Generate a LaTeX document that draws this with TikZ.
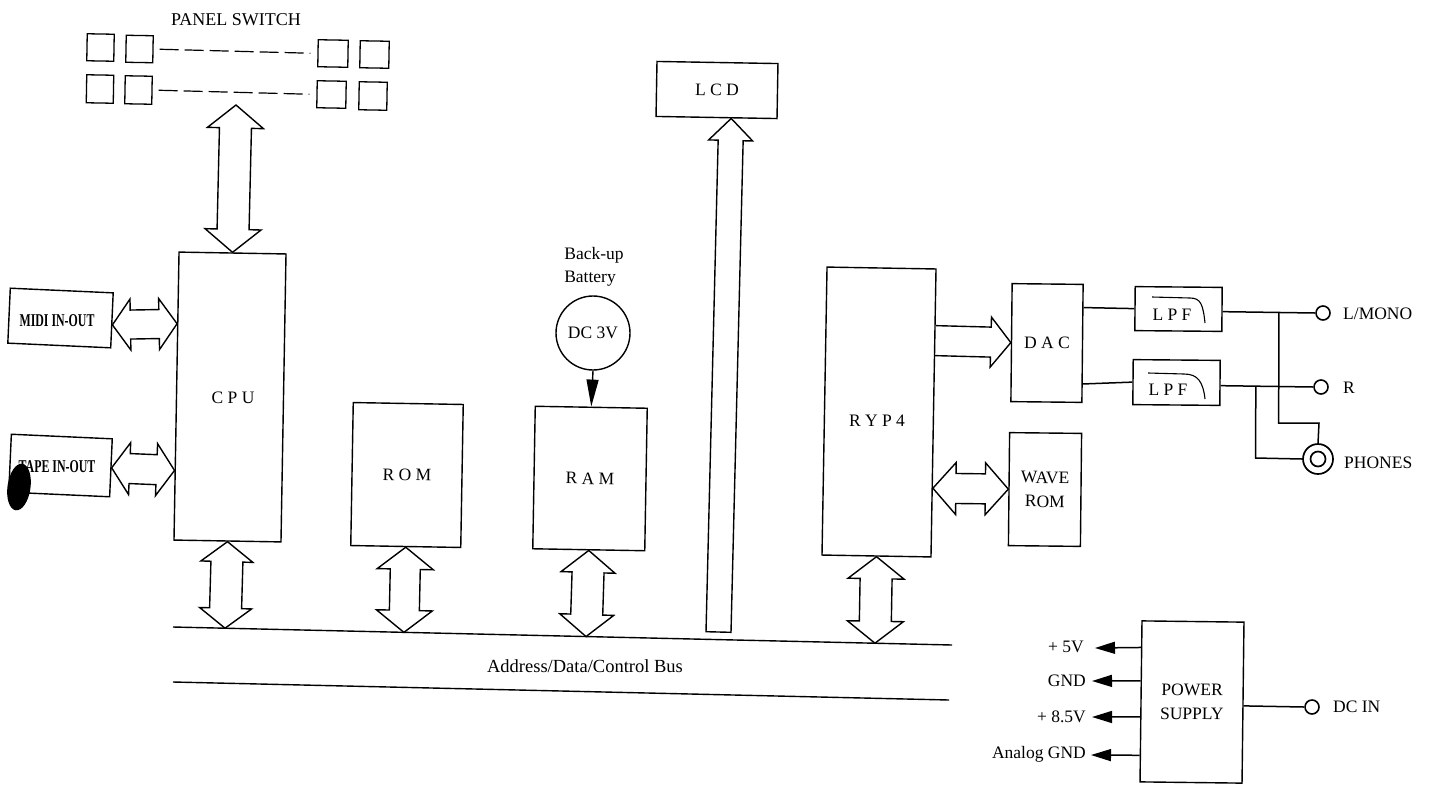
\documentclass[tikz,border=0pt]{standalone}
\usepackage{fontspec}
\usepackage{graphicx}
\setmainfont{Liberation Serif}
\usetikzlibrary{calc,arrows.meta}
\tikzset{
  every node/.style={font=\fontsize{17.5}{20}\selectfont},
  box/.style={draw,line width=1.4pt,inner sep=0pt,align=center},
  swbox/.style={draw,line width=1.3pt,inner sep=0pt,minimum width=27pt,minimum height=27pt,rotate=-1},
  lab/.style={inner sep=0pt,align=center},
  term/.style={draw,circle,line width=1.6pt,inner sep=0pt,minimum size=14pt},
  wire/.style={line width=1.5pt},
  blk/.style={line width=1.4pt,line join=miter,fill=white},
  pwr/.style={line width=1.5pt,-{Triangle[width=12pt,length=20pt]}}
}
% two-headed block arrow between named points: a, b, head half width, shaft half width, head length
\newcommand\dblarrow[5]{%
  \coordinate (p1) at ($(#1)!#5!(#2)$);
  \coordinate (p2) at ($(#2)!#5!(#1)$);
  \draw[blk] (#1) -- ($(p1)!#3!90:(#1)$) -- ($(p1)!#4!90:(#1)$) -- ($(p2)!#4!-90:(#2)$) -- ($(p2)!#3!-90:(#2)$) -- (#2)
    -- ($(p2)!#3!90:(#2)$) -- ($(p2)!#4!90:(#2)$) -- ($(p1)!#4!-90:(#1)$) -- ($(p1)!#3!-90:(#1)$) -- cycle;
}
\begin{document}
\begin{tikzpicture}[x=1pt,y=-1pt]
\useasboundingbox (0,0) rectangle (1431,785);
% panel switches
\node[lab,font=\fontsize{18}{20}\selectfont] (panel) at (236,20) {PANEL SWITCH};
\node[swbox] (s11) at (100.5,47.5) {};
\node[swbox] (s12) at (139.5,49) {};
\node[swbox,minimum width=30pt] (s13) at (333,53.5) {};
\node[swbox,minimum width=29pt] (s14) at (374.5,54.5) {};
\node[swbox,minimum height=28pt] (s21) at (100,89) {};
\node[swbox,minimum height=28pt] (s22) at (138.5,90) {};
\node[swbox,minimum width=29pt] (s23) at (331.5,94.5) {};
\node[swbox,minimum width=28pt,minimum height=28pt] (s24) at (373,96) {};
\draw[line width=1.2pt,dash pattern=on 19pt off 6pt] ($(s12.east)+(6,0)$) -- ($(s13.west)+(-7,0)$);
\draw[line width=1.2pt,dash pattern=on 19pt off 6pt] ($(s22.east)+(6,0)$) -- ($(s23.west)+(-7,0)$);
% main boxes
\node[box,minimum width=107pt,minimum height=288pt,rotate=-1] (cpu) at (230,397) {};
\node[lab] (cputext) at (233,398) {C P U};
\node[box,minimum width=103pt,minimum height=55pt,rotate=-2.6] (midi) at (60.5,318) {};
\node[lab] (miditext) at (57,321) {\scalebox{.66}[1]{\fontsize{18}{20}\selectfont\bfseries MIDI IN-OUT}};
\node[box,minimum width=101pt,minimum height=58pt,rotate=-2.6] (tape) at (60.5,465.5) {};
\fill[black,rotate around={-8:(19,487)}] (19,487) ellipse [x radius=11.5pt,y radius=23.5pt];
\node[lab] (tapetext) at (57,467) {\scalebox{.66}[1]{\fontsize{18}{20}\selectfont\bfseries TAPE IN-OUT}};
\node[box,minimum width=110pt,minimum height=143pt,rotate=-1] (rom) at (407,475) {R O M};
\node[box,minimum width=112pt,minimum height=142.5pt,rotate=-1] (ram) at (590,478.5) {R A M};
\node[box,minimum width=121pt,minimum height=55pt,rotate=-1] (lcd) at (717,90) {L C D};
\node[box,minimum width=109pt,minimum height=288pt,rotate=-1] (ryp) at (879,412) {};
\node[lab] (ryptext) at (877,421) {R Y P 4};
\node[box,minimum width=71pt,minimum height=118pt,rotate=-.6] (dac) at (1047,343) {D A C};
\node[box,minimum width=72pt,minimum height=113pt,rotate=-.6] (wave) at (1045,489.5) {WAVE\\[4pt]ROM};
\node[box,minimum width=87pt,minimum height=44pt,rotate=-.5] (lpfa) at (1178.5,309) {};
\node[lab] (lpfatext) at (1172,315) {L P F};
\node[box,minimum width=87pt,minimum height=45pt,rotate=-.5] (lpfb) at (1176.5,382.5) {};
\node[lab] (lpfbtext) at (1168,390) {L P F};
\draw[line width=1.1pt] (1152,297) -- (1190,298) .. controls (1201,298) and (1203,305) .. (1205,323);
\draw[line width=1.1pt] (1148,373) -- (1184,374) .. controls (1198,374) and (1203,382) .. (1205,399);
\node[box,minimum width=102pt,minimum height=161pt,rotate=-.7] (psu) at (1192,702) {POWER\\[4pt]SUPPLY};
% battery
\node[lab] (backup) at (594,255) {Back-up};
\node[lab] (battery) at (590,279) {Battery};
\node[draw,circle,line width=1.4pt,minimum size=74pt,inner sep=0pt] (batt) at (593,333) {DC 3V};
\draw[line width=1.4pt,-{Triangle[width=12pt,length=27pt]}] (batt.south) -- (ram.north);
% block arrows
\dblarrow{cpu.north}{236,105}{28pt}{16pt}{23pt}
\dblarrow{$(midi.north east)!.58!(midi.south east)$}{$(cpu.north west)!.25!(cpu.south west)$}{25.5pt}{14.5pt}{18pt}
\dblarrow{tape.east}{$(cpu.north west)!.757!(cpu.south west)$}{26pt}{15pt}{18pt}
\coordinate (busa) at (173,627);
\coordinate (busb) at (952,645);
\coordinate (busc) at (173,682);
\coordinate (busd) at (949,700);
\draw[line width=1.4pt] (busa) -- (busb);
\draw[line width=1.4pt] (busc) -- (busd);
\node[lab,font=\fontsize{18.5}{20}\selectfont] (bustext) at (585,666) {Address/Data/Control Bus};
\dblarrow{cpu.south}{$(busa)!.0668!(busb)$}{26pt}{16pt}{20pt}
\dblarrow{rom.south}{$(busa)!.2964!(busb)$}{28pt}{15pt}{22pt}
\dblarrow{ram.south}{$(busa)!.5302!(busb)$}{27pt}{16pt}{22pt}
\dblarrow{ryp.south}{$(busa)!.9011!(busb)$}{28pt}{16pt}{22pt}
\dblarrow{$(ryp.north east)!.76!(ryp.south east)$}{wave.west}{26pt}{15pt}{23pt}
% LCD arrow
\coordinate (lcdbase) at (718.5,632);
\coordinate (lcdtip) at ($(lcd.south west)!.62!(lcd.south east)$);
\coordinate (la) at ($(lcdtip)!22pt!(lcdbase)$);
\coordinate (lb) at ($(lcdbase)!12.5pt!90:(lcdtip)$);
\coordinate (lc) at ($(lcdbase)!12.5pt!-90:(lcdtip)$);
\draw[blk] (lcdtip) -- ($(la)!22pt!90:(lcdbase)$) -- ($(la)!12.5pt!90:(lcdbase)$) -- (lc) -- (lb) -- ($(la)!12.5pt!-90:(lcdbase)$) -- ($(la)!22pt!-90:(lcdbase)$) -- cycle;
% RYP4 to DAC arrow
\coordinate (ra) at ($(ryp.north east)!.25!(ryp.south east)$);
\coordinate (rb) at ($(dac.west)!20pt!(ra)$);
\draw[blk,fill=none] ($(ra)!15pt!-90:(dac.west)$) -- ($(rb)!15pt!-90:(dac.west)$) -- ($(rb)!25pt!-90:(dac.west)$) -- (dac.west) -- ($(rb)!25pt!90:(dac.west)$) -- ($(rb)!15pt!90:(dac.west)$) -- ($(ra)!15pt!90:(dac.west)$);
% audio outputs
\node[term] (lout) at (1323,313) {};
\node[term] (rout) at (1321,387) {};
\node[draw,circle,line width=1.7pt,inner sep=0pt,minimum size=30pt] (phones) at (1318,459) {};
\node[draw,circle,line width=1.7pt,inner sep=0pt,minimum size=15pt] (phonesin) at (phones.center) {};
\node[lab,anchor=west] (ltext) at (1343,314) {L/MONO};
\node[lab,anchor=west] (rtext) at (1343,388) {R};
\node[lab,anchor=west] (ptext) at (1344,463) {PHONES};
\coordinate (lae) at ($(lpfa.north east)!.55!(lpfa.south east)$);
\coordinate (lbe) at ($(lpfb.north east)!.56!(lpfb.south east)$);
\draw[wire] ($(dac.north east)!.2!(dac.south east)$) -- (lpfa.west);
\draw[wire] ($(dac.north east)!.84!(dac.south east)$) -- (lpfb.west);
\draw[wire] (lae) -- (lout.west);
\draw[wire] (lbe) -- (rout.west);
\coordinate (ja) at ($(lae)!.606!(lout.west)$);
\coordinate (jb) at ($(lbe)!.38!(rout.west)$);
\draw[wire] (ja) -- (ja |- rout.west) -- (1278.5,423) -- (1319,423) -- (phones.north);
\draw[wire] (jb) -- (1255.5,458) -- (phones.west);
% power supply
\node[lab,anchor=east] (v5) at (1084,647) {+ 5V};
\node[lab,anchor=east] (vg) at (1086,681) {GND};
\node[lab,anchor=east] (v85) at (1086,717) {+ 8.5V};
\node[lab,anchor=east] (vag) at (1086,754) {Analog GND};
\coordinate (t5) at (1095,648);
\coordinate (tg) at (1092,681);
\coordinate (t85) at (1092,717);
\coordinate (tag) at (1091,755);
\draw[pwr] ($(psu.north west)!.168!(psu.south west)$) -- (t5);
\draw[pwr] ($(psu.north west)!.373!(psu.south west)$) -- (tg);
\draw[pwr] ($(psu.north west)!.596!(psu.south west)$) -- (t85);
\draw[pwr] ($(psu.north west)!.832!(psu.south west)$) -- (tag);
\node[term] (dcin) at (1312,707) {};
\node[lab,anchor=west] (dctext) at (1333,707) {DC IN};
\draw[wire] ($(psu.north east)!.52!(psu.south east)$) -- (dcin.west);
\end{tikzpicture}
\end{document}
